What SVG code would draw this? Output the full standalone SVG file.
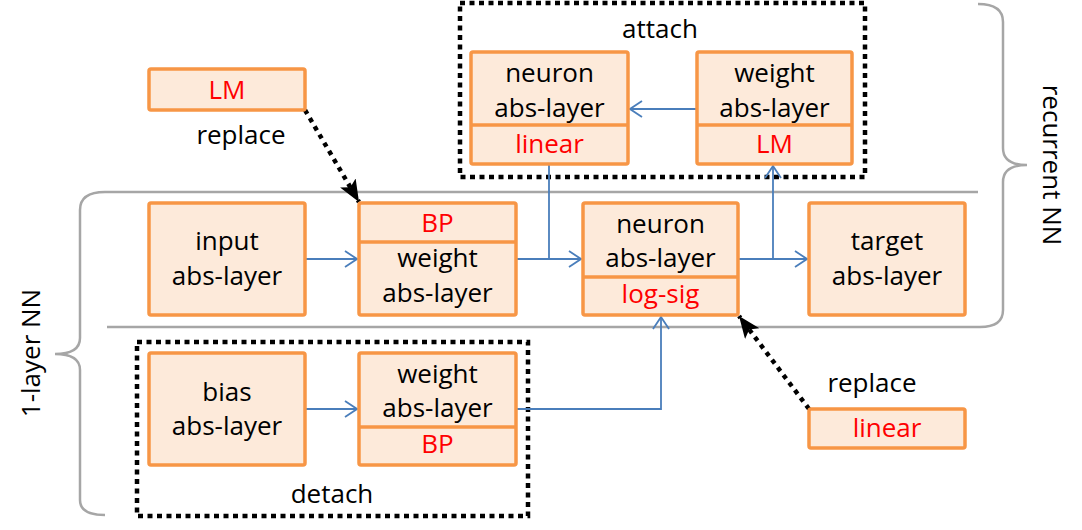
<svg xmlns="http://www.w3.org/2000/svg" width="1082" height="530" viewBox="0 0 1082 530">
<style>
.box{fill:#FDEADA;stroke:#F79646;stroke-width:3.5}
.div{stroke:#F79646;stroke-width:3.5}
.t{font-family:"Open Sans","Liberation Sans",sans-serif;font-size:26px;fill:#000;text-anchor:middle}
.r{fill:#FF0000}
.dash{fill:none;stroke:#000;stroke-width:4.5;stroke-dasharray:5 4.5}
.brace{fill:none;stroke:#A6A6A6;stroke-width:2.5}
.blue{fill:none;stroke:#4A7EBB;stroke-width:1.8}
.dot{fill:none;stroke:#000;stroke-width:4.5;stroke-dasharray:4.5 5}
</style>
<defs>
<marker id="open" viewBox="0 0 14 18" refX="13" refY="9" markerWidth="14" markerHeight="18" markerUnits="userSpaceOnUse" orient="auto"><path d="M1,1 L13,9 L1,17" fill="none" stroke="#4A7EBB" stroke-width="1.8"/></marker>
<marker id="blk" viewBox="0 0 22 18" refX="22" refY="9" markerWidth="22" markerHeight="18" markerUnits="userSpaceOnUse" orient="auto"><path d="M0,0 L22,9 L0,18 L5,9 z" fill="#000"/></marker>
</defs>

<g id="braces">
<path class="brace" d="M978,4 Q1003,4 1003,22 L1003,148 Q1003,165 1027,165 Q1003,165 1003,182 L1003,310 Q1003,327 980,327 L107,327"/>
<path class="brace" d="M978,192 L105,192 Q80,192 80,210 L80,338 Q80,354 55,354 Q80,354 80,370 L80,500 Q80,515 105,515"/>
<text class="t" transform="translate(1043,165) rotate(90)">recurrent NN</text>
<text class="t" transform="translate(40,353) rotate(-90)">1-layer NN</text>
</g>

<g id="attach">
<rect class="dash" x="460" y="3" width="405" height="174"/>
<text class="t" x="660" y="38">attach</text>
</g>
<g id="detach">
<rect class="dash" x="137" y="342" width="391" height="174"/>
<text class="t" x="332" y="503">detach</text>
</g>

<g id="connectors">
<path class="blue" d="M305,259 H357" marker-end="url(#open)"/>
<path class="blue" d="M516,259 H581" marker-end="url(#open)"/>
<path class="blue" d="M549,165 V259"/>
<path class="blue" d="M738,259 H807" marker-end="url(#open)"/>
<path class="blue" d="M773,259 V166" marker-end="url(#open)"/>
<path class="blue" d="M697,109 H630" marker-end="url(#open)"/>
<path class="blue" d="M305,409 H357" marker-end="url(#open)"/>
<path class="blue" d="M516,409 H661 V317" marker-end="url(#open)"/>
<path class="dot" d="M305,110 L359,202" marker-end="url(#blk)"/>
<path class="dot" d="M809,409 L739,316" marker-end="url(#blk)"/>
</g>

<g id="lm-top">
<rect class="box" x="149" y="69" width="156" height="41" rx="2"/>
<text class="t r" x="227" y="99">LM</text>
<text class="t" x="241" y="144">replace</text>
</g>

<g id="attach-neuron">
<rect class="box" x="471" y="52" width="157" height="112" rx="2"/>
<line class="div" x1="471" y1="125" x2="628" y2="125"/>
<text class="t" x="549.5" y="82">neuron</text>
<text class="t" x="549.5" y="117">abs-layer</text>
<text class="t r" x="549.5" y="153">linear</text>
</g>

<g id="attach-weight">
<rect class="box" x="697" y="52" width="155" height="112" rx="2"/>
<line class="div" x1="697" y1="125" x2="852" y2="125"/>
<text class="t" x="774.5" y="82">weight</text>
<text class="t" x="774.5" y="117">abs-layer</text>
<text class="t r" x="774.5" y="153">LM</text>
</g>

<g id="input">
<rect class="box" x="149" y="203" width="156" height="112" rx="2"/>
<text class="t" x="227" y="250">input</text>
<text class="t" x="227" y="285">abs-layer</text>
</g>

<g id="weight-bp">
<rect class="box" x="359" y="203" width="157" height="112" rx="2"/>
<line class="div" x1="359" y1="242" x2="516" y2="242"/>
<text class="t r" x="437.5" y="232">BP</text>
<text class="t" x="437.5" y="267">weight</text>
<text class="t" x="437.5" y="302">abs-layer</text>
</g>

<g id="neuron">
<rect class="box" x="583" y="203" width="155" height="112" rx="2"/>
<line class="div" x1="583" y1="277" x2="738" y2="277"/>
<text class="t" x="660.5" y="233">neuron</text>
<text class="t" x="660.5" y="267">abs-layer</text>
<text class="t r" x="660.5" y="303">log-sig</text>
</g>

<g id="target">
<rect class="box" x="809" y="203" width="156" height="112" rx="2"/>
<text class="t" x="887" y="250">target</text>
<text class="t" x="887" y="285">abs-layer</text>
</g>

<g id="bias">
<rect class="box" x="149" y="353" width="156" height="112" rx="2"/>
<text class="t" x="227" y="401">bias</text>
<text class="t" x="227" y="435">abs-layer</text>
</g>

<g id="weight-detach">
<rect class="box" x="359" y="353" width="157" height="112" rx="2"/>
<line class="div" x1="359" y1="427" x2="516" y2="427"/>
<text class="t" x="437.5" y="383">weight</text>
<text class="t" x="437.5" y="417">abs-layer</text>
<text class="t r" x="437.5" y="453">BP</text>
</g>

<g id="linear-bottom">
<rect class="box" x="809" y="409" width="156" height="39" rx="2"/>
<text class="t r" x="887" y="437">linear</text>
<text class="t" x="872" y="392">replace</text>
</g>
</svg>
